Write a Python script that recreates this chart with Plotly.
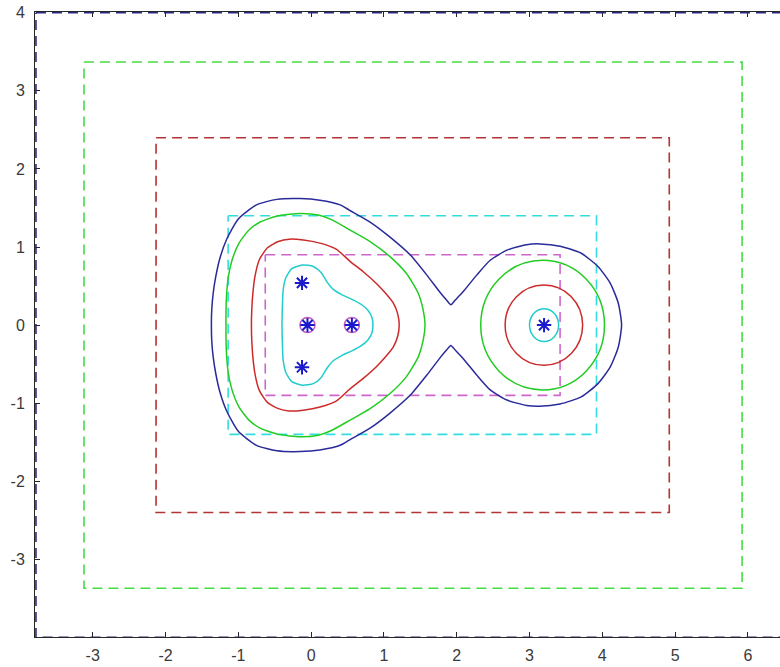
import plotly.graph_objects as go

# Eigenvalues (blue asterisks); the first two also carry a magenta ring
eig_x = [-0.05, 0.56, -0.125, -0.125, 3.2]
eig_y = [0.0, 0.0, 0.54, -0.54, 0.0]
ring_x = [-0.05, 0.56]
ring_y = [0.0, 0.0]

# Pseudospectral boundaries around the left cluster (upper half, left -> right);
# the lower half follows from conjugate symmetry.
cyan_x = [-0.40, -0.395, -0.385, -0.35, -0.27, -0.12, 0.03, 0.14, 0.22, 0.30, 0.42, 0.56, 0.68, 0.78, 0.835, 0.85]
cyan_y = [0.0, 0.22, 0.44, 0.60, 0.72, 0.77, 0.75, 0.67, 0.55, 0.46, 0.39, 0.33, 0.27, 0.19, 0.10, 0.0]

red_x = [-0.82, -0.815, -0.80, -0.77, -0.71, -0.60, -0.45, -0.30, -0.107, 0.122, 0.35, 0.53, 0.72, 0.90, 1.02, 1.13, 1.19, 1.21]
red_y = [0.0, 0.2, 0.41, 0.63, 0.84, 0.99, 1.07, 1.10, 1.09, 1.05, 0.97, 0.82, 0.68, 0.53, 0.41, 0.28, 0.14, 0.0]

green_x = [-1.17, -1.165, -1.14, -1.09, -0.99, -0.85, -0.70, -0.45, -0.15, 0.10, 0.28, 0.53, 0.81, 1.08, 1.31, 1.47, 1.54, 1.565]
green_y = [0.0, 0.32, 0.60, 0.82, 1.05, 1.22, 1.32, 1.40, 1.43, 1.41, 1.35, 1.22, 1.07, 0.88, 0.66, 0.41, 0.19, 0.0]

blue_x = [-1.37, -1.365, -1.345, -1.31, -1.255, -1.16, -1.00, -0.75, -0.47, -0.15, 0.12, 0.40, 0.53, 0.81, 1.08,
          1.36, 1.59, 1.77, 1.86, 1.92, 1.98, 2.09, 2.275, 2.46, 2.69, 2.96, 3.14, 3.42, 3.71, 3.94, 4.11, 4.22, 4.265]
blue_y = [0.0, 0.2, 0.41, 0.62, 0.85, 1.10, 1.36, 1.54, 1.61, 1.62, 1.60, 1.54, 1.47, 1.32, 1.13,
          0.90, 0.64, 0.42, 0.32, 0.26, 0.32, 0.43, 0.64, 0.83, 0.96, 1.03, 1.04, 1.01, 0.92, 0.75, 0.535, 0.28, 0.0]

# Isolated eigenvalue: circular boundaries (left edge, right edge, half height)
disc_colors = ["#22cccc", "#cc2a2a", "#22cc22"]
disc_left = [3.0, 2.665, 2.33]
disc_right = [3.4, 3.73, 4.03]
disc_half = [0.21, 0.515, 0.83]

# Dashed bounding boxes
box_colors = ["#cc66cc", "#33dddd", "#b03535", "#44dd44", "#2a2a7a"]
box_x0 = [-0.63, -1.14, -2.13, -3.12, -3.78]
box_x1 = [3.42, 3.92, 4.92, 5.92, 6.55]
box_h = [0.9, 1.4, 2.4, 3.37, 4.0]

x_ticks = [-3, -2, -1, 0, 1, 2, 3, 4, 5, 6]
x_tick_text = ["-3", "-2", "-1", "0", "1", "2", "3", "4", "5", "6"]
y_ticks = [-4, -3, -2, -1, 0, 1, 2, 3, 4]
y_tick_text = ["-4", "-3", "-2", "-1", "0", "1", "2", "3", "4"]

fig = go.Figure()

for c, x0, x1, h in zip(box_colors, box_x0, box_x1, box_h):
    fig.add_trace(go.Scatter(
        x=[x0, x1, x1, x0, x0], y=[h, h, -h, -h, h], mode="lines",
        line=dict(color=c, width=1.6, dash="10px,6px"), hoverinfo="skip"))


def closed(xs, ys):
    # upper half, its mirror image below the real axis (without repeating the
    # points on the axis), then back to the start
    lx = xs[-2:0:-1]
    ly = [-v for v in ys[-2:0:-1]]
    return xs + lx + [xs[0]], ys + ly + [ys[0]]


for xs, ys, c in [(cyan_x, cyan_y, "#22cccc"), (red_x, red_y, "#cc2a2a"),
                  (green_x, green_y, "#22cc22"), (blue_x, blue_y, "#2a2a9a")]:
    cx, cy = closed(xs, ys)
    fig.add_trace(go.Scatter(x=cx, y=cy, mode="lines",
                             line=dict(color=c, width=1.5, shape="spline", smoothing=0.6),
                             hoverinfo="skip"))

for c, l, r, h in zip(disc_colors, disc_left, disc_right, disc_half):
    fig.add_shape(type="circle", xref="x", yref="y", x0=l, x1=r, y0=-h, y1=h,
                  line=dict(color=c, width=1.5))

fig.add_trace(go.Scatter(x=ring_x, y=ring_y, mode="markers",
                         marker=dict(symbol="circle-open", size=15, color="#c060c0",
                                     line=dict(width=1.5, color="#c060c0"))))
fig.add_trace(go.Scatter(x=eig_x, y=eig_y, mode="markers",
                         marker=dict(symbol="asterisk-open", size=12, color="#1a1acc",
                                     line=dict(width=2, color="#1a1acc"))))

axis_common = dict(showgrid=False, zeroline=False, showline=True, linecolor="#262626",
                   linewidth=1, ticks="inside", ticklen=5, tickcolor="#262626",
                   tickfont=dict(family="Liberation Sans, Arial", size=16, color="#3a3a3a"),
                   layer="below traces")

fig.update_layout(
    width=780, height=667,
    margin=dict(l=35, r=0, t=12, b=30),
    paper_bgcolor="white", plot_bgcolor="white",
    showlegend=False,
    xaxis=dict(range=[-3.793, 6.441], tickvals=x_ticks, ticktext=x_tick_text,
               mirror="ticks", ticklabelstandoff=4, **axis_common),
    yaxis=dict(range=[-3.995, 4.01], tickvals=y_ticks, ticktext=y_tick_text,
               mirror=False, ticklabelstandoff=6, **axis_common),
)

fig.write_html("out.html")
